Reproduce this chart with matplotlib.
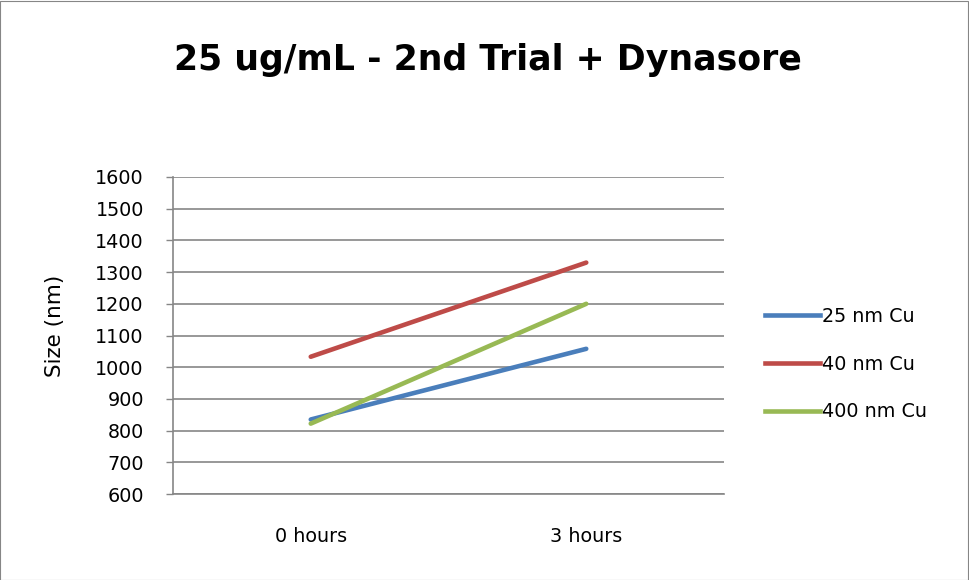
import matplotlib.pyplot as plt
from matplotlib.lines import Line2D

# data
times = ['0 hours', '3 hours']
cu_25 = [835, 1058]
cu_40 = [1033, 1330]
cu_400 = [822, 1200]
series = ['25 nm Cu', '40 nm Cu', '400 nm Cu']
colors = ['#4A7EBB', '#BE4B48', '#98B954']
yticks = list(range(600, 1601, 100))

fs = 13.8
fig = plt.figure(figsize=(9.69, 5.8), dpi=100)
ax = fig.add_axes([173/969, 1 - 494/580, (724-173)/969, (494-177)/580])

# figure outline
fig.patches.append(plt.Rectangle((0.0005, 0.0008), 0.998, 0.998, transform=fig.transFigure,
                                 fill=False, edgecolor='#868686', linewidth=0.8))

xs = [0, 1]
for vals, col in zip([cu_25, cu_40, cu_400], colors):
    ax.plot(xs, vals, color=col, linewidth=3.3, solid_capstyle='round')

ax.set_xlim(-0.5, 1.5)
ax.set_ylim(600, 1600)
ax.set_yticks(yticks)
ax.set_xticks(xs)
ax.set_xticklabels(times, fontsize=fs)
ax.tick_params(axis='x', length=0, pad=24)
ax.tick_params(axis='y', length=5, color='#868686', width=1, labelsize=fs, pad=16)
ax.yaxis.grid(True, color='#868686', linewidth=1.2)
ax.set_axisbelow(True)
for s in ['top', 'right']:
    ax.spines[s].set_visible(False)
for s in ['left', 'bottom']:
    ax.spines[s].set_color('#868686')
    ax.spines[s].set_linewidth(1.2)

ax.set_ylabel('Size (nm)', fontsize=15.5)
ax.yaxis.set_label_coords(-0.196, 0.53)

fig.text(488/969, 1 - 60/580, '25 ug/mL - 2nd Trial + Dynasore', ha='center', va='center',
         fontsize=25, fontweight='bold')

handles = [Line2D([], [], color=c, linewidth=3.3) for c in colors]
fig.legend(handles, series, loc='center left', bbox_to_anchor=(765/969, 1 - 364/580),
           frameon=False, fontsize=fs, handlelength=2.85, handletextpad=0.15,
           labelspacing=1.5, borderaxespad=0, borderpad=0)

fig.savefig('out.png', dpi=100)
